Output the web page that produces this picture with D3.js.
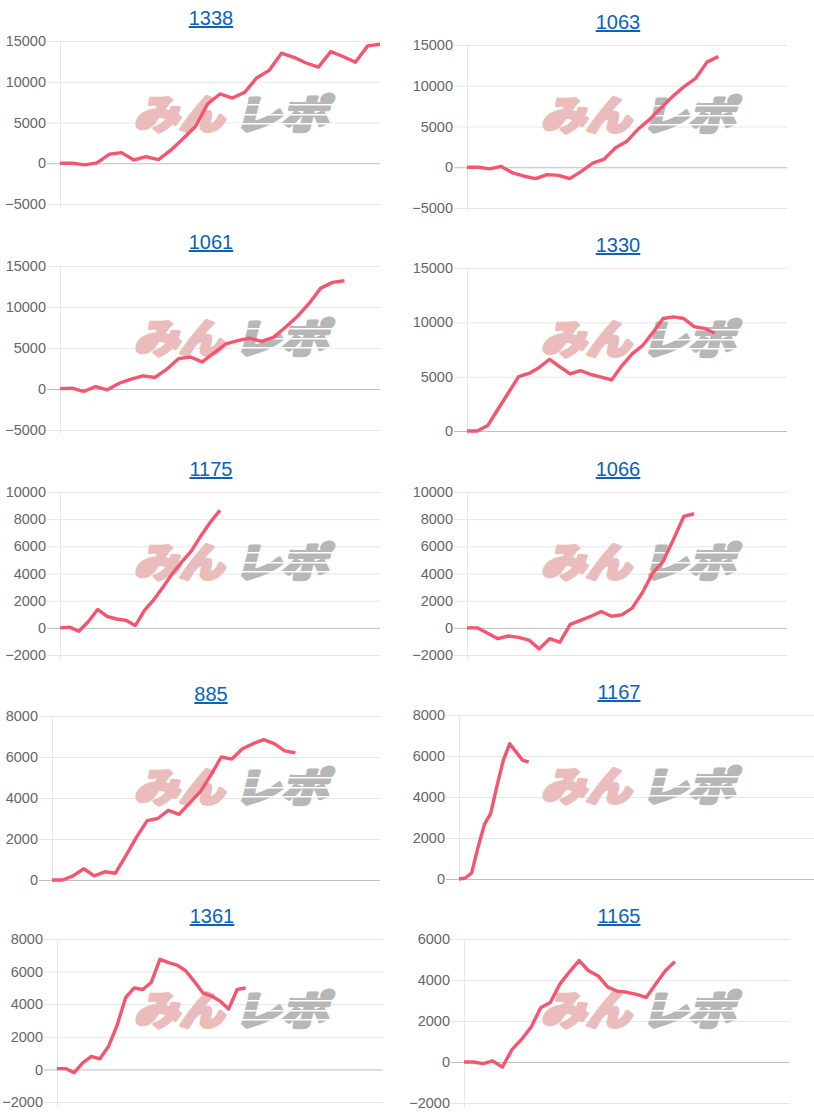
<!DOCTYPE html>
<html>
<head>
<meta charset="utf-8">
<script src="https://cdn.jsdelivr.net/npm/d3@7"></script>
<style>
  html, body { margin: 0; padding: 0; background: #fff; }
  svg { display: block; }
</style>
</head>
<body>
<svg id="chart" width="814" height="1120"></svg>
<script>
// ---- data ----
const titles = ["1338", "1063", "1061", "1330", "1175", "1066", "885", "1167", "1361", "1165"];

const s1338 = [0, 0, -200, 50, 1100, 1300, 400, 800, 450, 1600, 3000, 4500, 7300, 8500, 8000, 8700, 10500, 11400, 13500, 13000, 12300, 11800, 13700, 13100, 12400, 14400, 14600];
const s1063 = [0, 0, -200, 100, -700, -1100, -1400, -900, -1000, -1400, -500, 500, 1000, 2400, 3200, 4700, 5900, 7300, 8700, 9900, 10900, 12900, 13600];
const s1061 = [50, 100, -300, 300, -100, 700, 1200, 1600, 1400, 2400, 3700, 3900, 3300, 4400, 5500, 5900, 6200, 5800, 6300, 7500, 8800, 10400, 12300, 13000, 13200];
const s1330 = [0, 0, 500, 2000, 3500, 5000, 5300, 5850, 6600, 5900, 5250, 5550, 5200, 4950, 4700, 6000, 7100, 7850, 9050, 10350, 10500, 10350, 9600, 9450, 9000];
const s1175 = [0, 50, -250, 450, 1350, 850, 650, 550, 170, 1300, 2100, 3050, 4050, 4900, 5700, 6800, 7800, 8650];
const s1066 = [0, 0, -400, -800, -600, -700, -900, -1550, -800, -1050, 250, 550, 850, 1200, 850, 950, 1450, 2600, 4050, 4900, 6500, 8200, 8400];
const s885  = [0, 0, 200, 550, 200, 400, 330, 1200, 2100, 2900, 3000, 3400, 3200, 3750, 4300, 5100, 6000, 5900, 6400, 6650, 6850, 6650, 6300, 6200];
const s1167 = [0, 50, 300, 1550, 2650, 3200, 4550, 5800, 6600, 6200, 5800, 5700];
const s1361 = [50, 50, -200, 400, 800, 650, 1400, 2700, 4400, 5000, 4900, 5350, 6750, 6550, 6400, 6050, 5400, 4700, 4500, 4200, 3700, 4900, 5000];
const s1165 = [0, 0, -80, 50, -250, 600, 1100, 1700, 2650, 2900, 3800, 4400, 4950, 4450, 4200, 3650, 3450, 3400, 3300, 3150, 3800, 4450, 4900];

const seriesList = [s1338, s1063, s1061, s1330, s1175, s1066, s885, s1167, s1361, s1165];

// number of x-axis categories (days) on each chart
const labelCounts = [27, 29, 28, 32, 35, 32, 32, 57, 39, 35];

// y-axis tick labels of each chart
const ticks15k = [-5000, 0, 5000, 10000, 15000];
const ticks15kPos = [0, 5000, 10000, 15000];
const ticks10k = [-2000, 0, 2000, 4000, 6000, 8000, 10000];
const ticks8k = [0, 2000, 4000, 6000, 8000];
const ticks8kNeg = [-2000, 0, 2000, 4000, 6000, 8000];
const ticks6k = [-2000, 0, 2000, 4000, 6000];
const tickList = [ticks15k, ticks15k, ticks15k, ticks15kPos, ticks10k, ticks10k, ticks8k, ticks8k, ticks8kNeg, ticks6k];

// ---- layout (pixel boxes of each panel) ----
const layouts = [
  { l: 60,  r: 380, t: 41,  b: 204,  tx: 211, ty: 25,  top: 0,   wx: 132 },
  { l: 467, r: 787, t: 45,  b: 208,  tx: 618, ty: 29,  top: 1,   wx: 539 },
  { l: 60,  r: 380, t: 266, b: 430,  tx: 211, ty: 249, top: 224, wx: 132 },
  { l: 467, r: 787, t: 268, b: 431,  tx: 618, ty: 252, top: 225, wx: 539 },
  { l: 60,  r: 380, t: 492, b: 655,  tx: 211, ty: 476, top: 448, wx: 132 },
  { l: 467, r: 787, t: 492, b: 655,  tx: 618, ty: 476, top: 448, wx: 539 },
  { l: 52,  r: 380, t: 716, b: 880,  tx: 211, ty: 701, top: 673, wx: 132 },
  { l: 459, r: 814, t: 715, b: 879,  tx: 619, ty: 699, top: 672, wx: 539 },
  { l: 57,  r: 383, t: 939, b: 1102, tx: 212, ty: 923, top: 896, wx: 132 },
  { l: 464, r: 790, t: 939, b: 1103, tx: 619, ty: 923, top: 896, wx: 539 }
];

const LINE_COLOR = "#f5566f";
const svg = d3.select("#chart");
const SK = Math.tan(14 * Math.PI / 180);

titles.forEach((title, i) => {
  const L = layouts[i];
  const data = seriesList[i];
  const ticks = tickList[i];
  const labels = d3.range(labelCounts[i]);
  const g = svg.append("g");

  const x = d3.scalePoint().domain(labels).range([L.l, L.r]);
  const y = d3.scaleLinear().domain(d3.extent(ticks)).range([L.b, L.t]);

  // grid lines + tick marks
  const yAxis = d3.axisLeft(y).tickValues(ticks).tickSize(-(L.r - L.l)).tickPadding(14)
    .tickFormat(d3.format("d"));
  const ag = g.append("g").attr("transform", `translate(${L.l},0)`).call(yAxis);
  ag.select(".domain").remove();
  ag.selectAll(".tick line")
    .attr("x1", -13)
    .attr("stroke", d => d === 0 ? "#bfbfbf" : "#e6e6e6")
    .attr("stroke-width", 1);
  ag.selectAll(".tick text")
    .attr("fill", "#666")
    .attr("x", -14)
    .style("font-family", "'Liberation Sans', Arial, sans-serif")
    .style("font-size", "14.5px");

  // vertical axis line
  g.append("line")
    .attr("x1", L.l + 0.5).attr("x2", L.l + 0.5)
    .attr("y1", L.t).attr("y2", L.b + 4)
    .attr("stroke", "#e6e6e6");

  // watermark
  const wy = L.top + 129;
  const wm = g.append("g").attr("transform", `translate(${wy * SK},0) skewX(-14)`);
  wm.append("text")
    .attr("x", L.wx + 2).attr("y", wy)
    .attr("textLength", 90).attr("lengthAdjust", "spacingAndGlyphs")
    .attr("fill", "#ebbcbc").attr("stroke", "#ebbcbc").attr("stroke-width", 3.2)
    .attr("stroke-linejoin", "round")
    .style("font-family", "'Noto Sans CJK JP', sans-serif")
    .style("font-weight", 900)
    .style("font-size", "40px")
    .text("みん");
  wm.append("text")
    .attr("x", L.wx + 102).attr("y", wy)
    .attr("textLength", 94).attr("lengthAdjust", "spacingAndGlyphs")
    .attr("fill", "#b7b7b7").attr("stroke", "#b7b7b7").attr("stroke-width", 3.2)
    .attr("stroke-linejoin", "round")
    .style("font-family", "'Noto Sans CJK JP', sans-serif")
    .style("font-weight", 900)
    .style("font-size", "40px")
    .text("レポ");
  // speed-line cuts in the grey part
  [wy - 25, wy - 15, wy - 6].forEach(yy => {
    wm.append("rect").attr("x", L.wx + 98).attr("y", yy).attr("width", 104).attr("height", 1.5).attr("fill", "#fff");
  });

  // series line
  const line = d3.line().x((d, k) => x(labels[k])).y(d => y(d));
  g.append("path")
    .datum(data)
    .attr("d", line)
    .attr("fill", "none")
    .attr("stroke", LINE_COLOR)
    .attr("stroke-width", 3.4)
    .attr("stroke-linejoin", "round");

  // title link
  g.append("text")
    .attr("x", L.tx).attr("y", L.ty)
    .attr("text-anchor", "middle")
    .attr("fill", "#0b62b8")
    .attr("text-decoration", "underline")
    .style("font-family", "'Liberation Sans', Arial, sans-serif")
    .style("font-size", "20px")
    .text(title);
});
</script>
</body>
</html>
